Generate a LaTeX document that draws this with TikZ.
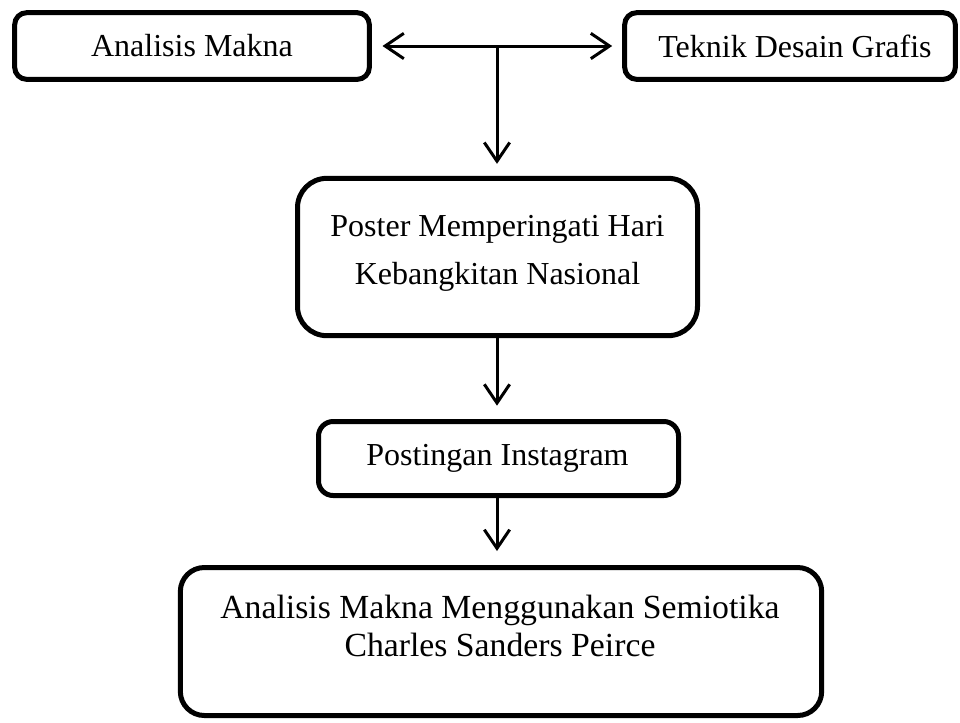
\documentclass[tikz,border=0pt]{standalone}
\usepackage{fontspec}
\setmainfont{Liberation Serif}
\usetikzlibrary{arrows.meta}
\tikzset{
  box/.style={draw=black, line width=3.75pt, rounded corners=#1, fill=white, inner sep=0pt},
  box/.default=9pt,
  txt/.style={inner sep=0pt, align=center, font=\fontsize{24}{36}\selectfont},
  arr/.style={draw=black, line width=2.25pt, -{Straight Barb[length=14pt, width=19pt, line width=2.25pt]}},
  dbl/.style={draw=black, line width=2.25pt, {Straight Barb[length=14pt, width=19pt, line width=2.25pt]}-{Straight Barb[length=14pt, width=19pt, line width=2.25pt]}}
}
\begin{document}
\begin{tikzpicture}[x=0.75pt, y=-0.75pt]
\useasboundingbox (0,0) rectangle (960,722);
% boxes
\node[box=9pt, minimum width=266pt, minimum height=50pt] (analisis) at (192,46) {};
\node[txt] (analisistxt) at (192,46) {Analisis Makna};
\node[box=9pt, minimum width=248pt, minimum height=50pt] (teknik) at (790,46) {};
\node[txt] (tekniktxt) at (795,46) {Teknik Desain Grafis};
\node[box=22pt, minimum width=300pt, minimum height=118pt] (poster) at (497.5,257) {};
\node[txt] (postertxt) at (497.5,253.6) {Poster Memperingati Hari\\Kebangkitan Nasional};
\node[box=11pt, minimum width=270pt, minimum height=55.5pt] (insta) at (498.5,458.5) {};
\node[txt] (instatxt) at (497.5,458) {Postingan Instagram};
\node[box=18pt, minimum width=481pt, minimum height=111pt] (hasil) at (501,641.5) {};
\node[txt, font=\fontsize{25.3}{28.5}\selectfont] (hasiltxt) at (500,626) {Analisis Makna Menggunakan Semiotika\\Charles Sanders Peirce};
% connectors
\coordinate (j) at (497,46);
\draw[dbl, shorten <=8pt, shorten >=7.5pt] (analisis.east) -- (teknik.west);
\draw[arr, shorten >=9pt] (j) -- (j |- poster.north);
\draw[arr, shorten >=10pt] (j |- poster.south) -- (j |- insta.north);
\draw[arr, shorten >=10.5pt] (j |- insta.south) -- (j |- hasil.north);
\end{tikzpicture}
\end{document}
